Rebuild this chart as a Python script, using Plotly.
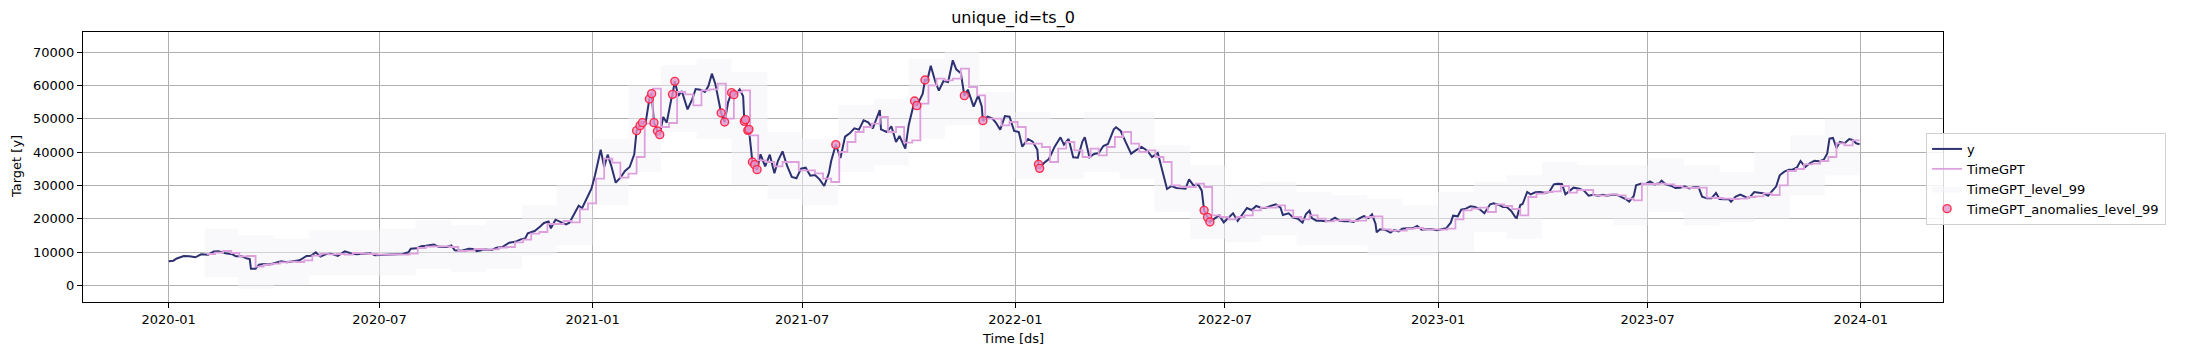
import pandas as pd
import plotly.graph_objects as go

# ---------------- data ----------------
y_2020_days = ["01-01","01-05","01-08","01-14","01-19","01-24","01-29",
               "02-04","02-09","02-13","02-19","02-25","02-28",
               "03-04","03-08","03-11","03-12","03-16","03-19","03-23","03-28",
               "04-02","04-07","04-12","04-17","04-23","04-29",
               "05-03","05-07","05-11","05-16","05-20","05-26",
               "06-01","06-06","06-11","06-17","06-23","06-27",
               "07-03","07-09","07-15","07-21","07-26","07-28",
               "08-02","08-06","08-10","08-17","08-21","08-28",
               "09-01","09-04","09-10","09-16","09-20","09-23","09-30",
               "10-06","10-10","10-15","10-21","10-26","10-31",
               "11-04","11-06","11-12","11-17","11-20","11-24","11-26","11-30",
               "12-04","12-09","12-12","12-16","12-20","12-23","12-27","12-31"]
y_2020_vals = [7200,7400,8050,8800,8700,8400,9300,
               9180,10150,10250,9600,9300,8700,
               8750,8100,7900,4970,5000,6200,6400,6250,
               6800,7200,6900,7100,7500,8800,
               8900,9900,8600,9400,9500,8800,
               10200,9650,9300,9450,9650,9000,
               9100,9250,9200,9380,9900,11000,
               11100,11750,11900,12250,11550,11500,
               11950,10500,10350,10950,10900,10250,10780,
               10600,11300,11500,12800,13050,13800,
               14150,15600,16300,17700,18700,19150,17100,19700,
               19150,18300,18800,21300,23900,23200,26300,29000]

y_2021_days = ["01-03","01-08","01-11","01-14","01-17","01-21","01-25","01-29",
               "02-02","02-06","02-08","02-11","02-13","02-16","02-19","02-21","02-23","02-26","02-28",
               "03-03","03-06","03-10","03-11","03-13","03-16","03-19","03-24","03-28","03-31",
               "04-04","04-08","04-11","04-14","04-17","04-22","04-25","04-28",
               "05-01","05-03","05-05","05-08","05-11","05-12","05-13","05-15","05-16","05-19","05-21","05-23","05-26","05-30",
               "06-03","06-07","06-10","06-14","06-18","06-22","06-26","06-30",
               "07-04","07-08","07-12","07-16","07-20","07-24","07-26","07-30",
               "08-03","08-07","08-11","08-15","08-19","08-23","08-27","08-31",
               "09-03","09-06","09-07","09-12","09-16","09-20","09-23","09-28",
               "10-01","10-06","10-08","10-13","10-15","10-17","10-20","10-24","10-27","10-31",
               "11-04","11-08","11-11","11-15","11-18","11-21","11-26","11-30",
               "12-03","12-04","12-08","12-12","12-15","12-19","12-23","12-27","12-31"]
y_2021_vals = [32900,40700,35500,39200,36000,30800,32300,34300,
               35500,39300,46400,47900,48800,49200,55900,57500,48800,46300,45200,
               50500,48800,55900,57300,61200,56800,58300,52800,55800,58900,
               58700,58000,59800,63500,60400,51700,49000,54900,
               57800,57200,57400,58800,56700,49200,49700,46500,46800,37000,36200,34700,39300,35700,
               39200,33600,37300,40200,35800,32500,32100,35000,
               35300,32900,33100,31800,29800,33600,37300,42200,
               38200,44600,45600,47100,46700,49500,48900,47100,
               49900,52600,46800,46000,47700,43000,44800,41000,
               48200,55300,53900,57400,61600,61500,65900,61000,58400,61300,
               61000,67500,64800,63600,56900,58700,53600,57000,
               53700,49400,50600,50100,48900,46700,50800,50600,46300]

y_2022_days = ["01-04","01-07","01-12","01-16","01-20","01-21","01-22","01-26","01-30",
               "02-04","02-09","02-12","02-16","02-20","02-24","02-28",
               "03-02","03-06","03-10","03-14","03-18","03-22","03-27","03-29",
               "04-02","04-06","04-11","04-15","04-20","04-25","04-29",
               "05-04","05-08","05-12","05-16","05-20","05-24","05-28","05-31",
               "06-04","06-08","06-11","06-13","06-16","06-18","06-22","06-26","06-30",
               "07-04","07-08","07-12","07-16","07-20","07-24","07-28",
               "08-01","08-05","08-10","08-14","08-18","08-20","08-25","08-29",
               "09-02","09-06","09-09","09-12","09-14","09-18","09-22","09-26","09-30",
               "10-04","10-08","10-12","10-16","10-20","10-25","10-29",
               "11-02","11-05","11-08","11-09","11-12","11-16","11-21","11-24","11-28",
               "12-01","12-05","12-10","12-14","12-18","12-22","12-26","12-31"]
y_2022_vals = [46000,41600,43900,43100,40700,36300,35100,36800,37900,
               41600,44400,42200,43900,38400,38300,43200,
               44400,38400,39400,39700,41800,42400,46800,47400,
               46300,43200,39500,40500,41500,40400,38500,
               39700,34100,28900,29800,29200,29100,29000,31800,
               29900,30200,28400,22500,20400,19000,20000,21000,18900,
               20200,21600,19300,21200,23200,22600,23800,
               23300,23200,23900,24300,23300,21100,21600,20300,
               20000,18800,21400,22400,20200,19400,19400,19200,19400,
               20300,19400,19200,19300,19000,20100,20800,
               20200,21300,18500,15900,16800,16700,15800,16600,16200,
               17000,17100,17100,17800,16700,16800,16900,16550]

y_2023_days = ["01-04","01-08","01-12","01-14","01-18","01-21","01-25","01-29",
               "02-02","02-06","02-10","02-15","02-18","02-22","02-26",
               "03-01","03-05","03-09","03-10","03-13","03-15","03-18","03-19","03-22","03-26","03-30",
               "04-03","04-07","04-11","04-14","04-18","04-21","04-25","04-28",
               "05-03","05-07","05-11","05-15","05-19","05-23","05-27","05-31",
               "06-04","06-08","06-12","06-15","06-19","06-21","06-25","06-29",
               "07-03","07-07","07-11","07-13","07-17","07-21","07-25","07-29",
               "08-02","08-06","08-10","08-14","08-17","08-21","08-25","08-29",
               "09-01","09-05","09-09","09-11","09-15","09-19","09-23","09-27",
               "10-01","10-05","10-09","10-13","10-17","10-20","10-23","10-27","10-31",
               "11-03","11-07","11-10","11-14","11-18","11-22","11-26","11-30",
               "12-03","12-05","12-08","12-11","12-14","12-18","12-22","12-25","12-28","12-31"]
y_2023_vals = [16850,17100,18800,20900,20700,22700,23000,23700,
               23500,22800,21600,24300,24600,24200,23500,
               23600,22400,20300,20200,24100,24400,26900,28000,27300,27900,28000,
               27800,28000,30300,30500,30400,27300,28300,29300,
               29000,28400,26900,27200,26900,27200,26900,27200,
               27200,26500,25900,25100,26800,30000,30500,30400,
               31200,30300,30600,31400,30200,29900,29200,29300,
               29700,29100,29400,29400,26600,26100,26100,27700,
               25900,25800,25900,25100,26600,27200,26600,26400,
               28000,27800,27600,26900,28500,29700,33000,34100,34700,
               34700,35400,37300,35500,36600,37400,37200,37700,
               39500,44000,44200,41200,43000,42600,43900,43600,42600,42300]

# TimeGPT forecast, one value per weekly step starting 2020-02-03
timegpt_start = "2020-02-03"
timegpt_end = "2023-12-31"
timegpt_2020 = [9400,9800,10300,9700, 8700,8800,5600,6200,6500, 6900,7100,7000,7500,
                8900,9500,9300,9400, 9200,9700,9500,9400,9200, 9200,9300,9200,9500,
                11200,11600,11700,11700,11500, 10300,10400,10900,10700, 10800,11300,11500,12900,
                13700,15500,16000,18400,18400, 19300,18900,22800,24600]
timegpt_2021 = [32000,38000,36800,32300, 33500,38500,48500,59000, 47500,48700,58000,57300,54000,
                58500,58800,60500,50000, 58000,58500,45000,37500,37000, 35700,37000,37000,34500,
                34500,33600,32000,31000, 40000,43000,46000,47500,48500, 50500,46000,47500,42800,
                43500,54500,60000,62000, 61500,62000,65000,59500,57000, 50000,50000,48000,49000]
timegpt_2022 = [47500,42500,42500,41500,37000, 41000,43000,40500,38500, 41000,39000,41500,44500,
                46000,42500,40000,40500, 38500,37000,30000,29500,29500, 30500,29500,21000,20500,
                19800,20500,21000,22500, 23300,23300,24000,22500,20500, 19800,21000,20000,19200,
                19500,19600,19300,19400,20500, 20700,16800,16400,16400, 17000,17200,16800,16800]
timegpt_2023 = [16700,17000,19800,22500,23000, 23300,22000,24300,23800, 22900,21000,26500,27500,
                28000,28200,29800,27800, 28600,28600,27000,26900,27300, 27000,26000,25500,30400,
                30400,30500,30300,29800,29300, 29200,29300,26300,26200, 26000,25900,26000,26500,
                26700,27600,27100,30000,34300, 34900,36300,36500,37300, 38500,42600,42000,43500]

# 99% interval, one value per month starting 2020-02
band_start = "2020-02-01"
band_hi = [17000,15000,14000,16500,16500,17000,19500,18000,19500,24000,30000,
           44000,60000,66000,68000,64000,46000,44000,54000,56000,68000,70000,58000,
           52000,50000,52000,52000,42000,36000,30000,31000,28000,27000,26000,24000,
           28000,31000,33000,37000,36000,36000,38000,36000,34000,40000,45000,50000]
band_lo = [2500,-1000,0,3000,3000,3000,5000,4000,5000,9000,12000,
           24000,34000,46000,44000,30000,26000,24000,34000,36000,44000,48000,40000,
           32000,32000,34000,32000,22000,14000,13000,15000,12000,12000,9000,9000,
           10000,16000,14000,20000,20000,18000,22000,18000,19000,20000,27000,33000]

anomaly_dates = ["2021-02-08","2021-02-11","2021-02-13","2021-02-19","2021-02-21","2021-02-23",
                 "2021-02-26","2021-02-28","2021-03-11","2021-03-13","2021-04-22","2021-04-25",
                 "2021-05-01","2021-05-03","2021-05-12","2021-05-13","2021-05-15","2021-05-16",
                 "2021-05-19","2021-05-21","2021-05-23","2021-07-30","2021-10-06","2021-10-08",
                 "2021-10-15","2021-11-18","2021-12-04","2022-01-21","2022-01-22",
                 "2022-06-13","2022-06-16","2022-06-18"]
anomaly_vals = [46400,47900,48800,55900,57500,48800,
                46300,45200,57300,61200,51700,49000,
                57800,57200,49200,49700,46500,46800,
                37000,36200,34700,42200,55300,53900,
                61600,56900,49400,36300,35100,
                22500,20400,19000]

x_tick_labels = ["2020-01","2020-07","2021-01","2021-07","2022-01","2022-07","2023-01","2023-07","2024-01"]
y_ticks = [0,10000,20000,30000,40000,50000,60000,70000]

# ---------------- assemble ----------------
y_dates, y_vals = [], []
for yr, d, v in [(2020, y_2020_days, y_2020_vals), (2021, y_2021_days, y_2021_vals),
                 (2022, y_2022_days, y_2022_vals), (2023, y_2023_days, y_2023_vals)]:
    if len(d) != len(v):
        raise ValueError(f"length mismatch {yr}: {len(d)} vs {len(v)}")
    y_dates += [f"{yr}-{s}" for s in d]
    y_vals += v

tg_vals = timegpt_2020 + timegpt_2021 + timegpt_2022 + timegpt_2023
tg_dates = list(pd.date_range(timegpt_start, periods=len(tg_vals), freq="7D"))
tg_dates_ext = tg_dates + [pd.Timestamp(timegpt_end)]
tg_vals_ext = tg_vals + [tg_vals[-1]]

if len(band_hi) != len(band_lo):
    raise ValueError("band mismatch")
b_dates = list(pd.date_range(band_start, periods=len(band_hi), freq="MS")) + [pd.Timestamp(timegpt_end)]
b_hi = band_hi + [band_hi[-1]]
b_lo = band_lo + [band_lo[-1]]

FONT = "DejaVu Sans"
NAVY = "#2d3170"
PLUM = "#dda0dd"

fig = go.Figure()
fig.add_trace(go.Scatter(x=b_dates, y=b_lo, mode="lines", line=dict(width=0, shape="hv"),
                         showlegend=False, hoverinfo="skip"))
fig.add_trace(go.Scatter(x=b_dates, y=b_hi, mode="lines", line=dict(width=0, shape="hv"),
                         fill="tonexty", fillcolor="rgba(244,244,250,0.5)",
                         name="TimeGPT_level_99", legendrank=3))
fig.add_trace(go.Scatter(x=y_dates, y=y_vals, mode="lines", line=dict(color=NAVY, width=2.0),
                         name="y", legendrank=1))
fig.add_trace(go.Scatter(x=tg_dates_ext, y=tg_vals_ext, mode="lines",
                         line=dict(color=PLUM, width=1.8, shape="hv"),
                         name="TimeGPT", legendrank=2))
fig.add_trace(go.Scatter(x=anomaly_dates, y=anomaly_vals, mode="markers",
                         marker=dict(size=8, color="rgba(225,150,205,0.8)",
                                     line=dict(color="rgba(255,30,60,0.9)", width=1.4)),
                         name="TimeGPT_anomalies_level_99", legendrank=4))

tick_vals = [f"{s}-01" for s in x_tick_labels]
fig.update_layout(
    width=2186, height=355, autosize=False,
    margin=dict(l=83, r=243, t=32, b=53),
    paper_bgcolor="white", plot_bgcolor="white",
    font=dict(family=FONT, size=13, color="black"),
    title=dict(text="unique_id=ts_0", x=0.5, xref="paper", y=1 - 17 / 355, yref="container",
               xanchor="center", yanchor="middle", font=dict(family=FONT, size=16, color="black")),
    legend=dict(x=0.9909, y=0.626, xanchor="left", yanchor="top", traceorder="normal",
                bgcolor="rgba(255,255,255,0.85)", bordercolor="#d0d0d0", borderwidth=1,
                font=dict(family=FONT, size=13), itemwidth=30, tracegroupgap=0),
    showlegend=True,
)
fig.update_xaxes(
    type="date", range=["2019-10-19", "2024-03-12"],
    tickvals=tick_vals, ticktext=x_tick_labels,
    showgrid=True, gridcolor="#b0b0b0", gridwidth=1,
    showline=True, linecolor="black", linewidth=1, mirror=True,
    ticks="outside", ticklen=5, tickcolor="black", zeroline=False,
    tickfont=dict(family=FONT, size=13),
)
fig.update_yaxes(
    range=[-5000, 76000], tickvals=y_ticks, ticktext=[str(v) for v in y_ticks],
    showgrid=True, gridcolor="#b0b0b0", gridwidth=1,
    showline=True, linecolor="black", linewidth=1, mirror=True,
    ticks="outside", ticklen=5, tickcolor="black", zeroline=False,
    tickfont=dict(family=FONT, size=13),
)
fig.add_annotation(text="Time [ds]", x=0.5, y=-(338 - 302) / 270, xref="paper", yref="paper",
                   showarrow=False, xanchor="center", yanchor="middle",
                   font=dict(family=FONT, size=13, color="black"))
fig.add_annotation(text="Target [y]", x=(16 - 83) / 1860, y=0.5, xref="paper", yref="paper",
                   showarrow=False, xanchor="center", yanchor="middle", textangle=-90,
                   font=dict(family=FONT, size=13, color="black"))

fig.write_html("out.html")
